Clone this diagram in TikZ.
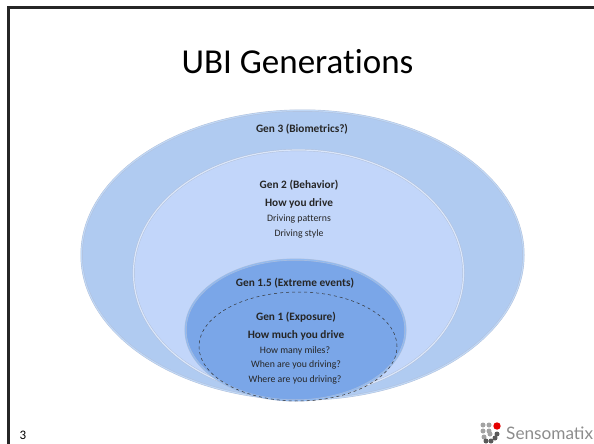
\documentclass[tikz,border=0pt]{standalone}
\usepackage{fontspec}
\setmainfont[Ligatures=NoCommon]{Carlito}
\newfontfamily\logofont{Lato}
\usepackage{xcolor}
\usetikzlibrary{shapes.geometric,positioning}
\definecolor{ringthree}{RGB}{176,203,241}
\definecolor{ringtwo}{RGB}{194,214,250}
\definecolor{ringone}{RGB}{122,166,232}
\definecolor{rimdark}{RGB}{176,190,216}
\definecolor{rimlight}{RGB}{218,230,250}
\definecolor{rimthree}{RGB}{192,216,246}
\definecolor{rimone}{RGB}{146,186,240}
\definecolor{logogray}{RGB}{140,140,140}
\tikzset{
  ring/.style={ellipse, inner sep=0pt, outer sep=0pt, draw=rimdark, line width=0.4pt, double distance=1.2pt},
  label/.style={align=center, text=black!85, inner sep=0pt, font=\fontsize{9.8}{16}\selectfont},
  head/.style={font=\fontsize{11.3}{16}\selectfont\bfseries},
  frameline/.style={line width=3pt, black!85},
  dot/.style={circle, fill=logogray!80, inner sep=0pt, minimum size=5pt},
  darkdot/.style={dot, fill=black!65}
}
\begin{document}
\begin{tikzpicture}[x=1pt, y=-1pt]
\useasboundingbox (0,0) rectangle (594,444);

% slide frame
\coordinate (cornerright) at (594,7.5);
\coordinate (corner) at (8.2,7.5);
\coordinate (cornerdown) at (8.2,444);
\draw[frameline] (cornerright) -- (corner) -- (cornerdown);

\node (title) [inner sep=0pt, font=\fontsize{35}{40}\selectfont] at (297.5,62) {UBI Generations};

% rings
\node (gen3) [ring, fill=ringthree, double=rimthree, minimum width=442pt, minimum height=289pt] at (302.5,255) {};
\node (gen2) [ring, fill=ringtwo, double=rimlight, minimum width=330pt, minimum height=246pt] at (298.5,273) {};
\node (gen15) [ring, fill=ringone, double=rimone, minimum width=220pt, minimum height=141pt] at (295.5,330) {};
\node (gen1) [ellipse, draw=black!80, dashed, line width=0.5pt, inner sep=0pt, minimum width=198pt, minimum height=109pt] at (298,346.5) {};

% texts
\node (gen3txt) [label, head] at (302,129) {Gen 3 (Biometrics?)};
\node (gen2txt) [label, head] at (299,185) {Gen 2 (Behavior)};
\node (gen2how) [label, head] at (299,203) {How you drive};
\node (gen2pat) [label] at (299,219) {Driving patterns};
\node (gen2sty) [label] at (299,234) {Driving style};
\node (gen15txt) [label, head] at (295,283) {Gen 1.5 (Extreme events)};
\node (gen1txt) [label, head] at (296,317) {Gen 1 (Exposure)};
\node (gen1how) [label, head] at (296,335) {How much you drive};
\node (gen1mil) [label] at (295,351) {How many miles?};
\node (gen1whn) [label] at (296,365) {When are you driving?};
\node (gen1whr) [label] at (295,380) {Where are you driving?};

\node (pagenum) [inner sep=0pt, font=\fontsize{13}{14}\selectfont] at (23,435) {3};

% logo
\foreach \px/\py in {483/425, 489/425, 483/431, 489/431, 484/437, 490/434}{
  \node [dot] at (\px,\py) {};
}
\foreach \px/\py in {497/434, 495/438, 491/441, 486/441}{
  \node [darkdot] at (\px,\py) {};
}
\node (logored) [circle, fill=red!90!black, inner sep=0pt, minimum size=7.4pt] at (497,426) {};
\node (logotxt) [anchor=west, inner sep=0pt, text=logogray, font=\logofont\fontsize{17.2}{18}\selectfont] at (506,433) {Sensomatix};

\end{tikzpicture}
\end{document}
